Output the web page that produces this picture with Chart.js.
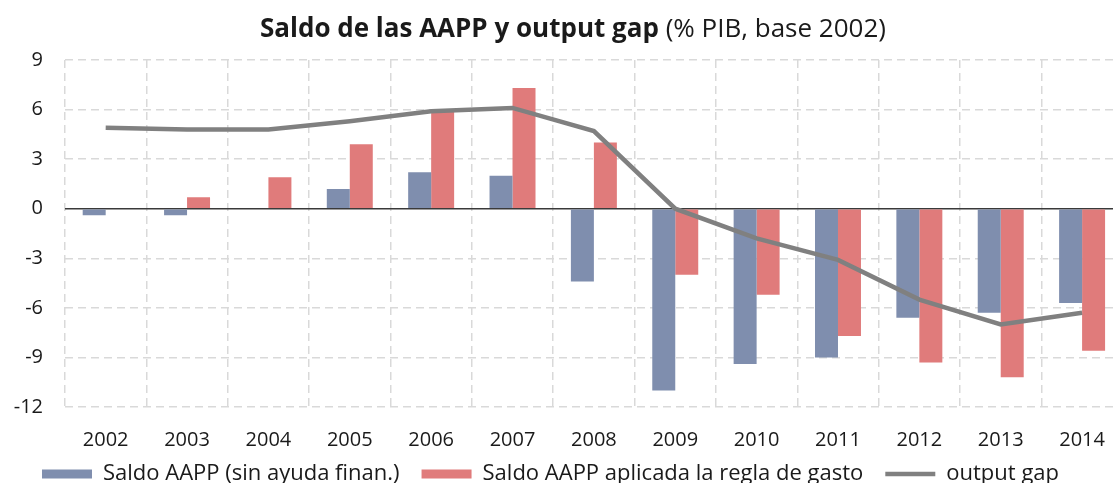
<!DOCTYPE html>
<html>
<head>
<meta charset="utf-8">
<script src="https://cdn.jsdelivr.net/npm/chart.js@4.4.0/dist/chart.umd.min.js"></script>
<style>
  html, body { margin: 0; padding: 0; background: #fff; overflow: hidden; }
  #wrap { position: relative; width: 1126px; height: 511px; }
  #title {
    position: absolute; left: 0; top: 9px; width: 1146px;
    text-align: center; font-family: 'Open Sans', sans-serif;
    font-size: 26px; line-height: 36px; color: #1a1a1a;
  }
  #title b { font-weight: 700; }
</style>
</head>
<body>
<div id="wrap">
  <div id="title"><b>Saldo de las AAPP y output gap</b> (% PIB, base 2002)</div>
  <canvas id="chart" width="1126" height="511"></canvas>
</div>
<script>
// Data
const years = ['2002', '2003', '2004', '2005', '2006', '2007', '2008', '2009', '2010', '2011', '2012', '2013', '2014'];
const saldoAAPP = [-0.4, -0.4, null, 1.2, 2.2, 2.0, -4.4, -11.0, -9.4, -9.0, -6.6, -6.3, -5.7];
const saldoRegla = [null, 0.7, 1.9, 3.9, 6.0, 7.3, 4.0, -4.0, -5.2, -7.7, -9.3, -10.2, -8.6];
const outputGap = [4.9, 4.8, 4.8, 5.3, 5.9, 6.1, 4.7, 0.0, -1.8, -3.1, -5.5, -7.0, -6.3];
const yTicks = [-12, -9, -6, -3, 0, 3, 6, 9];

const BLUE = '#7f8eae';
const RED = '#e07b7b';
const GREY = '#808080';
const FONT = "'Open Sans', sans-serif";

// pull the legend a little closer to the axis labels, as in the original
const legendNudge = {
  id: 'legendNudge',
  afterLayout(chart) {
    const lg = chart.legend;
    lg.top -= 16; lg.bottom -= 16;
    lg.left -= 12; lg.right -= 12;
  }
};

new Chart(document.getElementById('chart'), {
  type: 'bar',
  data: {
    labels: years,
    datasets: [
      {
        label: 'Saldo AAPP (sin ayuda finan.)',
        data: saldoAAPP,
        backgroundColor: BLUE,
        borderWidth: 0,
        order: 1
      },
      {
        label: 'Saldo AAPP aplicada la regla de gasto',
        data: saldoRegla,
        backgroundColor: RED,
        borderWidth: 0,
        order: 1
      },
      {
        type: 'line',
        label: 'output gap',
        data: outputGap,
        borderColor: GREY,
        backgroundColor: GREY,
        borderWidth: 4.5,
        pointRadius: 0,
        tension: 0,
        order: 0
      }
    ]
  },
  plugins: [legendNudge],
  options: {
    responsive: false,
    animation: false,
    categoryPercentage: 0.565,
    barPercentage: 1,
    layout: { padding: { top: 60, right: 1, left: 0, bottom: 0 } },
    plugins: {
      title: { display: false },
      tooltip: { enabled: false },
      legend: {
        position: 'bottom',
        labels: {
          color: '#1a1a1a',
          font: { family: FONT, size: 22 },
          usePointStyle: true,
          pointStyleWidth: 50,
          boxHeight: 9,
          padding: 22,
          generateLabels: chart => chart.data.datasets.map((ds, i) => ({
            text: ds.label,
            fillStyle: ds.backgroundColor,
            strokeStyle: ds.type === 'line' ? ds.borderColor : ds.backgroundColor,
            lineWidth: ds.type === 'line' ? 4.5 : 0,
            pointStyle: ds.type === 'line' ? 'line' : 'rect',
            fontColor: '#1a1a1a',
            hidden: false,
            datasetIndex: i
          }))
        }
      }
    },
    scales: {
      x: {
        afterFit: scale => { scale.height = 50; },
        grid: {
          offset: true,
          drawTicks: false,
          color: '#d9d9d9',
          lineWidth: 1.5
        },
        border: { display: false, dash: [8, 5] },
        ticks: {
          color: '#1a1a1a',
          font: { family: FONT, size: 20 },
          padding: 21,
          maxRotation: 0
        }
      },
      y: {
        min: -12,
        max: 9,
        afterBuildTicks: scale => { scale.ticks = yTicks.map(v => ({ value: v })); },
        afterFit: scale => { scale.width = 65; },
        grid: {
          drawTicks: false,
          color: ctx => ctx.tick && ctx.tick.value === 0 ? '#3a3a3a' : '#d9d9d9',
          lineWidth: ctx => ctx.tick && ctx.tick.value === 0 ? 1.6 : 1.5
        },
        border: {
          display: false,
          dash: ctx => ctx.tick && ctx.tick.value === 0 ? [] : [8, 5]
        },
        ticks: {
          color: '#1a1a1a',
          font: { family: FONT, size: 20 },
          padding: 22
        }
      }
    }
  }
});
</script>
</body>
</html>
